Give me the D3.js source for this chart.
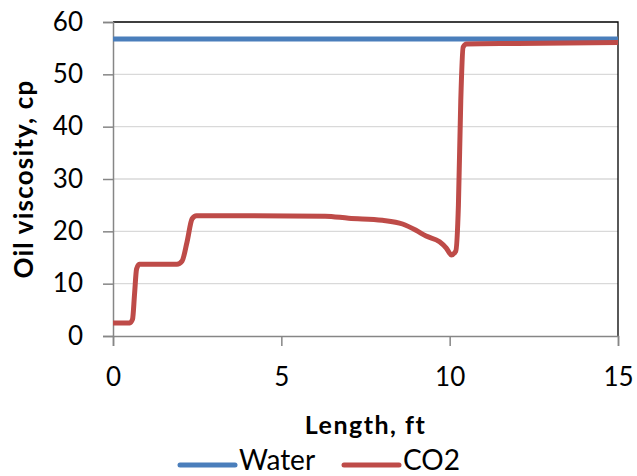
<!DOCTYPE html>
<html>
<head>
<meta charset="utf-8">
<script src="https://cdn.jsdelivr.net/npm/d3@7"></script>
<style>
  body { margin: 0; background: #fff; }
  svg text { font-family: Lato, "Open Sans", sans-serif; fill: #000; }
</style>
</head>
<body>
<svg id="chart" width="637" height="476"></svg>
<script>
// values
const xTicks = [0, 5, 10, 15];
const yTicks = [0, 10, 20, 30, 40, 50, 60];

const waterSeries = [[0, 56.75], [15, 56.75]];

const co2Series = [
  [0, 2.5], [0.5, 2.5], [0.58, 3.2], [0.64, 8], [0.7, 12.8], [0.78, 13.7],
  [1.9, 13.7], [2.05, 14.3], [2.2, 18], [2.35, 22.4], [2.48, 23],
  [3, 23], [6.3, 22.9], [7, 22.5], [8, 22.1], [8.6, 21.4], [9.0, 20.2],
  [9.3, 19.1], [9.7, 18.0], [9.9, 16.8], [10.05, 15.5], [10.18, 16.2],
  [10.26, 25], [10.33, 45], [10.4, 55.2], [10.5, 55.8], [12, 55.9], [15, 56.1]
];

const legendItems = [
  { name: "Water", color: "#4a7ebb" },
  { name: "CO2", color: "#be4b48" }
];

const svg = d3.select("#chart");
const plot = { left: 113, top: 22, right: 618, bottom: 336 };

const x = d3.scaleLinear().domain([0, 15]).range([plot.left, plot.right]);
const y = d3.scaleLinear().domain([0, 60]).range([plot.bottom, plot.top]);

// gridlines
svg.append("g")
  .selectAll("line")
  .data(yTicks.filter(d => d > 0 && d < 60))
  .join("line")
  .attr("x1", plot.left).attr("x2", plot.right)
  .attr("y1", d => y(d)).attr("y2", d => y(d))
  .attr("stroke", "#d9d9d9").attr("stroke-width", 1.3);

// top and right border
svg.append("path")
  .attr("d", `M${plot.left},${plot.top}H${plot.right}V${plot.bottom}`)
  .attr("fill", "none").attr("stroke", "#000").attr("stroke-width", 1.3);

const yAxis = svg.append("g")
  .attr("transform", `translate(${plot.left},0)`)
  .call(d3.axisLeft(y).tickValues(yTicks).tickSize(10).tickPadding(20));

const xAxis = svg.append("g")
  .attr("transform", `translate(0,${plot.bottom})`)
  .call(d3.axisBottom(x).tickValues(xTicks).tickSize(10).tickPadding(22));

[yAxis, xAxis].forEach(g => {
  g.select(".domain").attr("stroke", "#868686").attr("stroke-width", 1.5);
  g.selectAll(".tick line").attr("stroke", "#868686").attr("stroke-width", 1.5);
  g.selectAll(".tick text").style("font-size", "26px");
});

// series
const line = d3.line().x(d => x(d[0])).y(d => y(d[1])).curve(d3.curveMonotoneX);

svg.append("path")
  .datum(waterSeries)
  .attr("d", line)
  .attr("fill", "none")
  .attr("stroke", legendItems[0].color)
  .attr("stroke-width", 5);

svg.append("path")
  .datum(co2Series)
  .attr("d", line)
  .attr("fill", "none")
  .attr("stroke", legendItems[1].color)
  .attr("stroke-width", 5)
  .attr("stroke-linejoin", "round");

// axis titles
svg.append("text")
  .attr("x", (plot.left + plot.right) / 2)
  .attr("y", 434)
  .attr("text-anchor", "middle")
  .style("font-size", "25px")
  .style("font-weight", "bold")
  .style("letter-spacing", "1.5px")
  .text("Length, ft");

svg.append("text")
  .attr("transform", `translate(33,${(plot.top + plot.bottom) / 2}) rotate(-90)`)
  .attr("text-anchor", "middle")
  .style("font-size", "26px")
  .style("font-weight", "bold")
  .style("letter-spacing", "1.2px")
  .text("Oil viscosity, cp");

// legend
const legendX = [180, 344];
const legend = svg.append("g")
  .selectAll("g")
  .data(legendItems)
  .join("g")
  .attr("transform", (d, i) => `translate(${legendX[i]},465)`);

legend.append("line")
  .attr("x1", 0).attr("x2", 55)
  .attr("stroke", d => d.color)
  .attr("stroke-width", 5)
  .attr("stroke-linecap", "round");

legend.append("text")
  .attr("x", 59)
  .attr("y", 5)
  .style("font-size", "28px")
  .text(d => d.name);
</script>
</body>
</html>
